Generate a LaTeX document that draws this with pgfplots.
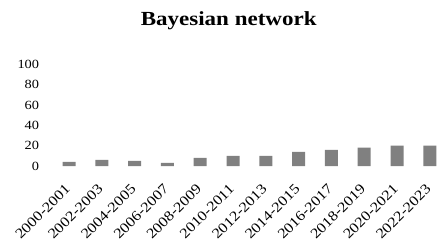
\documentclass[border=0pt]{standalone}
\usepackage{fontspec}
\setmainfont[FakeStretch=1.15]{Liberation Serif}
\usepackage{pgfplots}
\pgfplotsset{compat=1.18}
\usetikzlibrary{calc}
\definecolor{bargray}{HTML}{808080}
\begin{document}
\begin{tikzpicture}
\begin{axis}[
  scale only axis, width=393.6pt, height=101.5pt,
  xmin=-0.5, xmax=11.5, ymin=0, ymax=100,
  axis line style={draw=none},
  ytick={0,20,...,100},
  xtick={0,...,11},
  xticklabels={2000-2001,2002-2003,2004-2005,2006-2007,2008-2009,2010-2011,2012-2013,2014-2015,2016-2017,2018-2019,2020-2021,2022-2023},
  major tick length=0pt,
  ybar, bar width=13pt,
  yticklabel style={font=\fontsize{12.5}{12.5}\selectfont, anchor=east, xshift=-10pt},
  xticklabel style={font=\fontsize{14.2}{14.2}\selectfont, xshift=-1.2pt, yshift=-20.5pt, rotate=45, anchor=east, inner sep=0pt},
  /pgf/number format/assume math mode=true,
  clip=false,
]
\addplot[fill=bargray, draw=none] coordinates {(0,4) (1,6) (2,5) (3,3) (4,8) (5,10) (6,10) (7,14) (8,16) (9,18) (10,20) (11,20)};
\coordinate (bl) at (rel axis cs:0,0);
\end{axis}
\node[anchor=base, font=\fontsize{20}{20}\selectfont\bfseries] at ($(bl)+(176.1pt,140.3pt)$) {Bayesian network};
\pgfresetboundingbox
\path[use as bounding box] ($(bl)+(-52.6pt,-85pt)$) rectangle ++(438pt,251pt);
\end{tikzpicture}
\end{document}
